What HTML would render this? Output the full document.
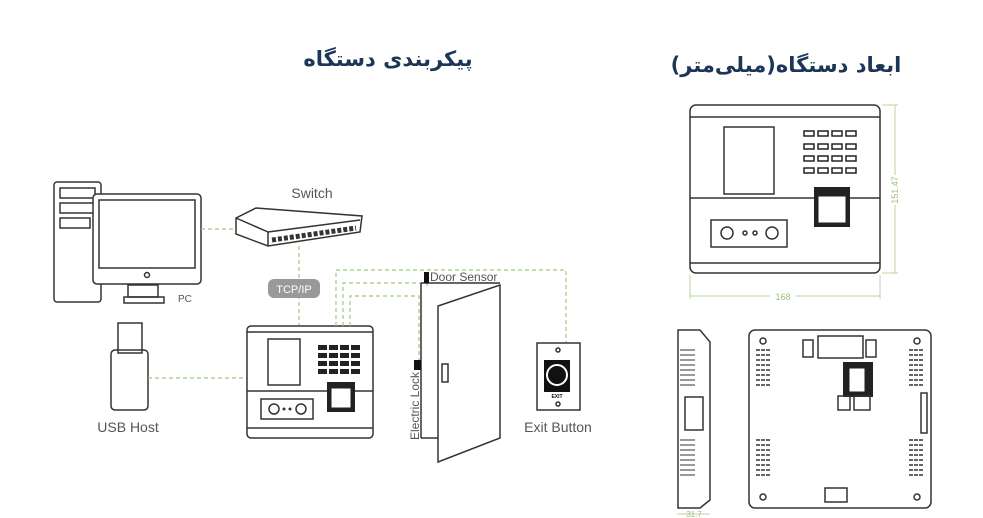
<!DOCTYPE html>
<html><head><meta charset="utf-8"><style>
html,body{margin:0;padding:0;background:#fff;width:983px;height:518px;overflow:hidden}
svg{display:block}
.t{font-family:"DejaVu Sans","Liberation Sans",sans-serif;font-weight:bold;fill:#1d3557}
.l{font-family:"Liberation Sans",sans-serif;fill:#555}
.g{stroke:#9ccc7a;stroke-width:1.2;stroke-dasharray:4 3;fill:none}
.k{stroke:#333;fill:none;stroke-width:1.5}
.d{stroke:#b8d69c;stroke-width:1;fill:none}
</style></head><body>
<svg width="983" height="518" viewBox="0 0 983 518">
<text class="t" x="388" y="66" font-size="21" text-anchor="middle" direction="rtl">پیکربندی دستگاه</text>
<text class="t" x="786" y="72" font-size="21" text-anchor="middle" direction="rtl">ابعاد دستگاه(میلی‌متر)</text>

<!-- PC -->
<rect x="54" y="182" width="47" height="120" class="k" rx="3"/>
<rect x="60" y="188" width="35" height="10" class="k"/>
<rect x="60" y="203" width="35" height="10" class="k"/>
<rect x="60" y="218" width="30" height="10" class="k"/>
<rect x="93" y="194" width="108" height="90" rx="4" class="k" fill="#fff" style="fill:#fff"/>
<rect x="99" y="200" width="96" height="68" class="k"/>
<circle cx="147" cy="275" r="2.5" class="k"/>
<rect x="128" y="285" width="30" height="12" class="k"/>
<rect x="124" y="297" width="40" height="6" class="k"/>
<text class="l" x="178" y="302" font-size="10">PC</text>

<!-- switch -->
<text class="l" x="312" y="198" font-size="14" text-anchor="middle">Switch</text>
<polygon points="236,218 256,208 362,216 360,232 268,246 236,234" class="k" fill="#fff"/>
<line x1="236" y1="218" x2="268" y2="232" class="k"/>
<line x1="268" y1="232" x2="360" y2="220" class="k"/>
<line x1="268" y1="232" x2="268" y2="246" class="k"/>
<line x1="272" y1="240" x2="356" y2="228" stroke="#333" stroke-width="5" stroke-dasharray="4 2"/>
<line x1="201" y1="229" x2="236" y2="229" class="g"/>
<line x1="299" y1="246" x2="299" y2="326" class="g"/>
<rect x="268" y="279" width="52" height="19" rx="6" fill="#999"/>
<text x="294" y="293" font-size="11" text-anchor="middle" fill="#fff" font-family="Liberation Sans,sans-serif">TCP/IP</text>

<!-- USB -->
<rect x="118" y="323" width="24" height="30" class="k"/>
<rect x="111" y="350" width="37" height="60" rx="4" class="k" fill="#fff"/>
<text class="l" x="128" y="432" font-size="14" text-anchor="middle">USB Host</text>
<line x1="148" y1="378" x2="247" y2="378" class="g"/>

<!-- device -->
<rect x="247" y="326" width="126" height="112" rx="4" class="k"/>
<line x1="247" y1="332" x2="373" y2="332" class="k"/>
<line x1="247" y1="391" x2="373" y2="391" class="k"/>
<line x1="247" y1="428" x2="373" y2="428" class="k"/>
<rect x="268" y="339" width="32" height="46" class="k"/>
<g fill="#222"><rect x="318" y="345" width="9" height="5"/><rect x="329" y="345" width="9" height="5"/><rect x="340" y="345" width="9" height="5"/><rect x="351" y="345" width="9" height="5"/>
<rect x="318" y="353" width="9" height="5"/><rect x="329" y="353" width="9" height="5"/><rect x="340" y="353" width="9" height="5"/><rect x="351" y="353" width="9" height="5"/>
<rect x="318" y="361" width="9" height="5"/><rect x="329" y="361" width="9" height="5"/><rect x="340" y="361" width="9" height="5"/><rect x="351" y="361" width="9" height="5"/>
<rect x="318" y="369" width="9" height="5"/><rect x="329" y="369" width="9" height="5"/><rect x="340" y="369" width="9" height="5"/><rect x="351" y="369" width="9" height="5"/></g>
<rect x="327" y="382" width="28" height="30" fill="#222"/><rect x="331" y="388" width="20" height="20" fill="#fff" stroke="#222"/>
<rect x="261" y="399" width="52" height="20" class="k"/>
<circle cx="274" cy="409" r="5" class="k"/><circle cx="284" cy="409" r="1.5" fill="#333"/><circle cx="290" cy="409" r="1.5" fill="#333"/><circle cx="301" cy="409" r="5" class="k"/>

<!-- wiring -->
<polyline points="336,326 336,270 566,270 566,343" class="g"/>
<polyline points="343,326 343,283 427,283 427,288" class="g"/>
<polyline points="350,326 350,296 419,296 419,360" class="g"/>

<!-- door -->
<line x1="421" y1="283" x2="500" y2="283" class="k"/>
<line x1="421" y1="283" x2="421" y2="438" class="k"/>
<line x1="421" y1="438" x2="438" y2="438" class="k"/>
<polygon points="438,306 500,285 500,438 438,462" class="k" fill="#fff"/>
<rect x="442" y="364" width="6" height="18" class="k"/>
<rect x="424" y="272" width="5" height="11" fill="#111"/>
<rect x="414" y="360" width="7" height="10" fill="#111"/>
<text class="l" x="430" y="281" font-size="12">Door Sensor</text>
<text class="l" x="0" y="0" font-size="12" transform="translate(419,440) rotate(-90)">Electric Lock</text>

<!-- exit button -->
<rect x="537" y="343" width="43" height="67" class="k"/>
<circle cx="558" cy="350" r="2" class="k"/>
<rect x="544" y="360" width="26" height="32" fill="#111"/>
<circle cx="557" cy="375" r="10" stroke="#fff" stroke-width="2" fill="#111"/>
<text x="557" y="398" font-size="5" text-anchor="middle" font-family="Liberation Sans" font-weight="bold" fill="#111">EXIT</text>
<circle cx="558" cy="404" r="2" class="k"/>
<text class="l" x="558" y="432" font-size="14" text-anchor="middle">Exit Button</text>

<!-- front view dims -->
<rect x="690" y="105" width="190" height="168" rx="6" class="k"/>
<line x1="690" y1="117" x2="880" y2="117" class="k"/>
<line x1="690" y1="198" x2="880" y2="198" class="k"/>
<line x1="690" y1="263" x2="880" y2="263" class="k"/>
<rect x="724" y="127" width="50" height="67" class="k"/>
<g fill="#fff" stroke="#222" stroke-width="1.5">
<rect x="804" y="131" width="10" height="5"/><rect x="818" y="131" width="10" height="5"/><rect x="832" y="131" width="10" height="5"/><rect x="846" y="131" width="10" height="5"/>
<rect x="804" y="144" width="10" height="5"/><rect x="818" y="144" width="10" height="5"/><rect x="832" y="144" width="10" height="5"/><rect x="846" y="144" width="10" height="5"/>
<rect x="804" y="156" width="10" height="5"/><rect x="818" y="156" width="10" height="5"/><rect x="832" y="156" width="10" height="5"/><rect x="846" y="156" width="10" height="5"/>
<rect x="804" y="168" width="10" height="5"/><rect x="818" y="168" width="10" height="5"/><rect x="832" y="168" width="10" height="5"/><rect x="846" y="168" width="10" height="5"/></g>
<rect x="814" y="187" width="36" height="40" fill="#222"/><rect x="818" y="196" width="28" height="27" fill="#fff" stroke="#222"/>
<rect x="711" y="220" width="76" height="27" class="k"/>
<circle cx="727" cy="233" r="6" class="k"/><circle cx="745" cy="233" r="2" class="k"/><circle cx="755" cy="233" r="2" class="k"/><circle cx="772" cy="233" r="6" class="k"/>
<line x1="895" y1="105" x2="895" y2="273" class="d"/>
<line x1="882" y1="105" x2="898" y2="105" class="d"/><line x1="882" y1="273" x2="898" y2="273" class="d"/>
<rect x="890" y="175" width="10" height="30" fill="#fff"/>
<text x="0" y="0" font-size="9" fill="#9cbf7a" font-family="Liberation Sans" text-anchor="middle" transform="translate(898,190) rotate(-90)">151.47</text>
<line x1="690" y1="296" x2="880" y2="296" class="d"/>
<line x1="690" y1="275" x2="690" y2="299" class="d"/><line x1="880" y1="275" x2="880" y2="299" class="d"/>
<rect x="770" y="290" width="26" height="12" fill="#fff"/>
<text x="783" y="300" font-size="9" fill="#9cbf7a" font-family="Liberation Sans" text-anchor="middle">168</text>

<!-- side view -->
<path d="M678,330 L700,330 L710,342 L710,500 L700,508 L678,508 Z" class="k"/>
<g stroke="#333" stroke-width="1">
<line x1="680" y1="350" x2="695" y2="350"/><line x1="680" y1="355" x2="695" y2="355"/><line x1="680" y1="360" x2="695" y2="360"/><line x1="680" y1="365" x2="695" y2="365"/><line x1="680" y1="370" x2="695" y2="370"/><line x1="680" y1="375" x2="695" y2="375"/><line x1="680" y1="380" x2="695" y2="380"/><line x1="680" y1="385" x2="695" y2="385"/>
<line x1="680" y1="440" x2="695" y2="440"/><line x1="680" y1="445" x2="695" y2="445"/><line x1="680" y1="450" x2="695" y2="450"/><line x1="680" y1="455" x2="695" y2="455"/><line x1="680" y1="460" x2="695" y2="460"/><line x1="680" y1="465" x2="695" y2="465"/><line x1="680" y1="470" x2="695" y2="470"/><line x1="680" y1="475" x2="695" y2="475"/></g>
<rect x="685" y="397" width="18" height="33" class="k"/>
<line x1="677" y1="514" x2="710" y2="514" class="d"/>
<text x="694" y="517" font-size="8" fill="#9cbf7a" font-family="Liberation Sans" text-anchor="middle">31.7</text>

<!-- back view -->
<rect x="749" y="330" width="182" height="178" rx="6" class="k"/>
<rect x="818" y="336" width="45" height="22" class="k"/>
<rect x="803" y="340" width="10" height="17" class="k"/><rect x="866" y="340" width="10" height="17" class="k"/>
<rect x="843" y="362" width="30" height="35" fill="#222"/><rect x="849" y="368" width="16" height="24" fill="#fff" stroke="#222"/>
<rect x="838" y="396" width="12" height="14" class="k"/><rect x="854" y="396" width="16" height="14" class="k"/>
<rect x="825" y="488" width="22" height="14" class="k"/>
<g stroke="#333" stroke-width="1.5" stroke-dasharray="4 1">
<line x1="756" y1="350" x2="770" y2="350"/><line x1="756" y1="355" x2="770" y2="355"/><line x1="756" y1="360" x2="770" y2="360"/><line x1="756" y1="365" x2="770" y2="365"/><line x1="756" y1="370" x2="770" y2="370"/><line x1="756" y1="375" x2="770" y2="375"/><line x1="756" y1="380" x2="770" y2="380"/><line x1="756" y1="385" x2="770" y2="385"/>
<line x1="756" y1="440" x2="770" y2="440"/><line x1="756" y1="445" x2="770" y2="445"/><line x1="756" y1="450" x2="770" y2="450"/><line x1="756" y1="455" x2="770" y2="455"/><line x1="756" y1="460" x2="770" y2="460"/><line x1="756" y1="465" x2="770" y2="465"/><line x1="756" y1="470" x2="770" y2="470"/><line x1="756" y1="475" x2="770" y2="475"/>
<line x1="909" y1="350" x2="923" y2="350"/><line x1="909" y1="355" x2="923" y2="355"/><line x1="909" y1="360" x2="923" y2="360"/><line x1="909" y1="365" x2="923" y2="365"/><line x1="909" y1="370" x2="923" y2="370"/><line x1="909" y1="375" x2="923" y2="375"/><line x1="909" y1="380" x2="923" y2="380"/><line x1="909" y1="385" x2="923" y2="385"/>
<line x1="909" y1="440" x2="923" y2="440"/><line x1="909" y1="445" x2="923" y2="445"/><line x1="909" y1="450" x2="923" y2="450"/><line x1="909" y1="455" x2="923" y2="455"/><line x1="909" y1="460" x2="923" y2="460"/><line x1="909" y1="465" x2="923" y2="465"/><line x1="909" y1="470" x2="923" y2="470"/><line x1="909" y1="475" x2="923" y2="475"/></g>
<circle cx="763" cy="341" r="3" class="k"/><circle cx="917" cy="341" r="3" class="k"/><circle cx="763" cy="497" r="3" class="k"/><circle cx="917" cy="497" r="3" class="k"/>
<rect x="921" y="393" width="6" height="40" class="k"/>
</svg>
</body></html>
